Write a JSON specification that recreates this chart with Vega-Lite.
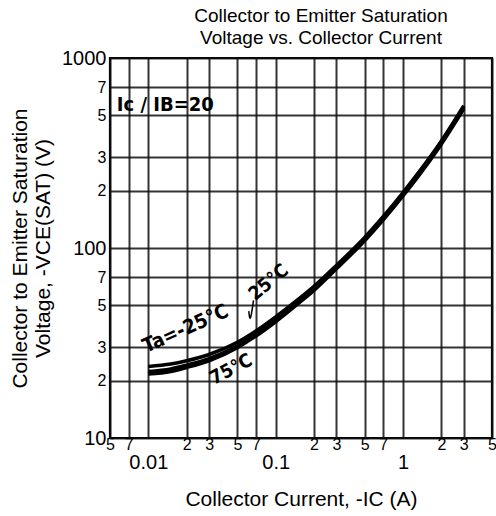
{
  "$schema": "https://vega.github.io/schema/vega-lite/v6.json",
  "width": 382,
  "height": 380,
  "autosize": "none",
  "padding": {"left": 110, "top": 58, "right": 4, "bottom": 78},
  "background": "white",
  "config": {
    "view": {"stroke": "black", "strokeWidth": 2.2},
    "font": "Liberation Sans",
    "axis": {
      "labelFont": "Liberation Sans",
      "titleFont": "Liberation Sans",
      "labelColor": "black",
      "titleColor": "black",
      "titleFontWeight": "normal",
      "grid": true,
      "gridColor": "#111111",
      "gridWidth": 2,
      "gridOpacity": 0.85,
      "ticks": false,
      "domain": false,
      "labelOverlap": false,
      "labelFlush": false
    }
  },
  "title": {
    "text": ["Collector to Emitter Saturation", "Voltage vs. Collector Current"],
    "fontSize": 19,
    "fontWeight": "normal",
    "font": "Liberation Sans",
    "color": "black",
    "lineHeight": 22,
    "dx": 20,
    "offset": 0
  },
  "datasets": {
    "curves": [
      {"temp": "-25", "ic": 0.01, "vce": 23.8},
      {"temp": "-25", "ic": 0.015, "vce": 24.5},
      {"temp": "-25", "ic": 0.02, "vce": 25.5},
      {"temp": "-25", "ic": 0.03, "vce": 27.5},
      {"temp": "-25", "ic": 0.05, "vce": 31.9},
      {"temp": "-25", "ic": 0.07, "vce": 36.6},
      {"temp": "-25", "ic": 0.1, "vce": 43.4},
      {"temp": "-25", "ic": 0.15, "vce": 53.6},
      {"temp": "-25", "ic": 0.2, "vce": 62.8},
      {"temp": "-25", "ic": 0.3, "vce": 81.0},
      {"temp": "-25", "ic": 0.5, "vce": 113.7},
      {"temp": "-25", "ic": 0.7, "vce": 146.6},
      {"temp": "-25", "ic": 1, "vce": 196},
      {"temp": "-25", "ic": 1.5, "vce": 279},
      {"temp": "-25", "ic": 2, "vce": 366},
      {"temp": "-25", "ic": 3, "vce": 561},
      {"temp": "25", "ic": 0.01, "vce": 22.4},
      {"temp": "25", "ic": 0.015, "vce": 23.1},
      {"temp": "25", "ic": 0.02, "vce": 24.2},
      {"temp": "25", "ic": 0.03, "vce": 26.2},
      {"temp": "25", "ic": 0.05, "vce": 30.6},
      {"temp": "25", "ic": 0.07, "vce": 35.2},
      {"temp": "25", "ic": 0.1, "vce": 41.9},
      {"temp": "25", "ic": 0.15, "vce": 52.1},
      {"temp": "25", "ic": 0.2, "vce": 61.2},
      {"temp": "25", "ic": 0.3, "vce": 79.3},
      {"temp": "25", "ic": 0.5, "vce": 111.4},
      {"temp": "25", "ic": 0.7, "vce": 143.6},
      {"temp": "25", "ic": 1, "vce": 192},
      {"temp": "25", "ic": 1.5, "vce": 274},
      {"temp": "25", "ic": 2, "vce": 359},
      {"temp": "25", "ic": 3, "vce": 551},
      {"temp": "75", "ic": 0.01, "vce": 21.7},
      {"temp": "75", "ic": 0.015, "vce": 22.4},
      {"temp": "75", "ic": 0.02, "vce": 23.5},
      {"temp": "75", "ic": 0.03, "vce": 25.5},
      {"temp": "75", "ic": 0.05, "vce": 29.9},
      {"temp": "75", "ic": 0.07, "vce": 34.4},
      {"temp": "75", "ic": 0.1, "vce": 40.9},
      {"temp": "75", "ic": 0.15, "vce": 50.9},
      {"temp": "75", "ic": 0.2, "vce": 59.8},
      {"temp": "75", "ic": 0.3, "vce": 77.7},
      {"temp": "75", "ic": 0.5, "vce": 109.2},
      {"temp": "75", "ic": 0.7, "vce": 140.7},
      {"temp": "75", "ic": 1, "vce": 188},
      {"temp": "75", "ic": 1.5, "vce": 268},
      {"temp": "75", "ic": 2, "vce": 352},
      {"temp": "75", "ic": 3, "vce": 540}
    ],
    "leader": [
      {"ic": 0.067, "vce": 53.0},
      {"ic": 0.0615, "vce": 46.5},
      {"ic": 0.063, "vce": 40.0}
    ],
    "ratio": [{"ic": 0.0136, "vce": 565, "label": "Ic / IB=20"}],
    "tm25": [{"ic": 0.0196, "vce": 37.5, "label": "Ta=-25°C"}],
    "t25": [{"ic": 0.088, "vce": 66.0, "label": "25°C"}],
    "t75": [{"ic": 0.0446, "vce": 23.0, "label": "75°C"}]
  },
  "encoding": {
    "x": {
      "field": "ic",
      "type": "quantitative",
      "scale": {"type": "log", "domain": [0.005, 5], "nice": false},
      "axis": {
        "values": [0.005, 0.007, 0.01, 0.02, 0.03, 0.05, 0.07, 0.1, 0.2, 0.3, 0.5, 0.7, 1, 2, 3, 5],
        "labelExpr": "datum.value == 0.01 ? ['', '0.01'] : datum.value == 0.1 ? ['', '0.1'] : datum.value == 1 ? ['', '1'] : substring(format(datum.value, '.0e'), 0, 1)",
        "labelFontSize": {"condition": {"test": "datum.value == 0.01 || datum.value == 0.1 || datum.value == 1", "value": 20}, "value": 16},
        "labelLineHeight": 16,
        "labelPadding": -2,
        "title": "Collector Current, -IC (A)",
        "titleFontSize": 21,
        "titlePadding": 16
      }
    },
    "y": {
      "field": "vce",
      "type": "quantitative",
      "scale": {"type": "log", "domain": [10, 1000], "nice": false},
      "axis": {
        "values": [10, 20, 30, 50, 70, 100, 200, 300, 500, 700, 1000],
        "labelExpr": "datum.value == 10 || datum.value == 100 || datum.value == 1000 ? format(datum.value, 'd') : substring(format(datum.value, '.0e'), 0, 1)",
        "labelFontSize": {"condition": {"test": "datum.value == 10 || datum.value == 100 || datum.value == 1000", "value": 20}, "value": 16},
        "labelPadding": 4,
        "title": ["Collector to Emitter Saturation", "Voltage, -VCE(SAT) (V)"],
        "titleFontSize": 21,
        "titleLineHeight": 23,
        "titlePadding": 8
      }
    }
  },
  "layer": [
    {
      "data": {"name": "curves"},
      "mark": {"type": "line", "color": "black", "strokeWidth": 3.5, "interpolate": "monotone"},
      "encoding": {"detail": {"field": "temp", "type": "nominal"}}
    },
    {
      "data": {"name": "leader"},
      "mark": {"type": "line", "color": "black", "strokeWidth": 1.5, "interpolate": "basis"},
      "encoding": {}
    },
    {
      "data": {"name": "ratio"},
      "mark": {"type": "text", "font": "DejaVu Sans Condensed", "fontSize": 20, "fontWeight": "bold", "color": "black"},
      "encoding": {"text": {"field": "label"}}
    },
    {
      "data": {"name": "tm25"},
      "mark": {"type": "text", "font": "DejaVu Sans Condensed", "fontSize": 20, "fontWeight": "bold", "color": "black", "angle": 336},
      "encoding": {"text": {"field": "label"}}
    },
    {
      "data": {"name": "t25"},
      "mark": {"type": "text", "font": "DejaVu Sans Condensed", "fontSize": 19, "fontWeight": "bold", "color": "black", "angle": 320},
      "encoding": {"text": {"field": "label"}}
    },
    {
      "data": {"name": "t75"},
      "mark": {"type": "text", "font": "DejaVu Sans Condensed", "fontSize": 19, "fontWeight": "bold", "color": "black", "angle": 332},
      "encoding": {"text": {"field": "label"}}
    }
  ]
}
